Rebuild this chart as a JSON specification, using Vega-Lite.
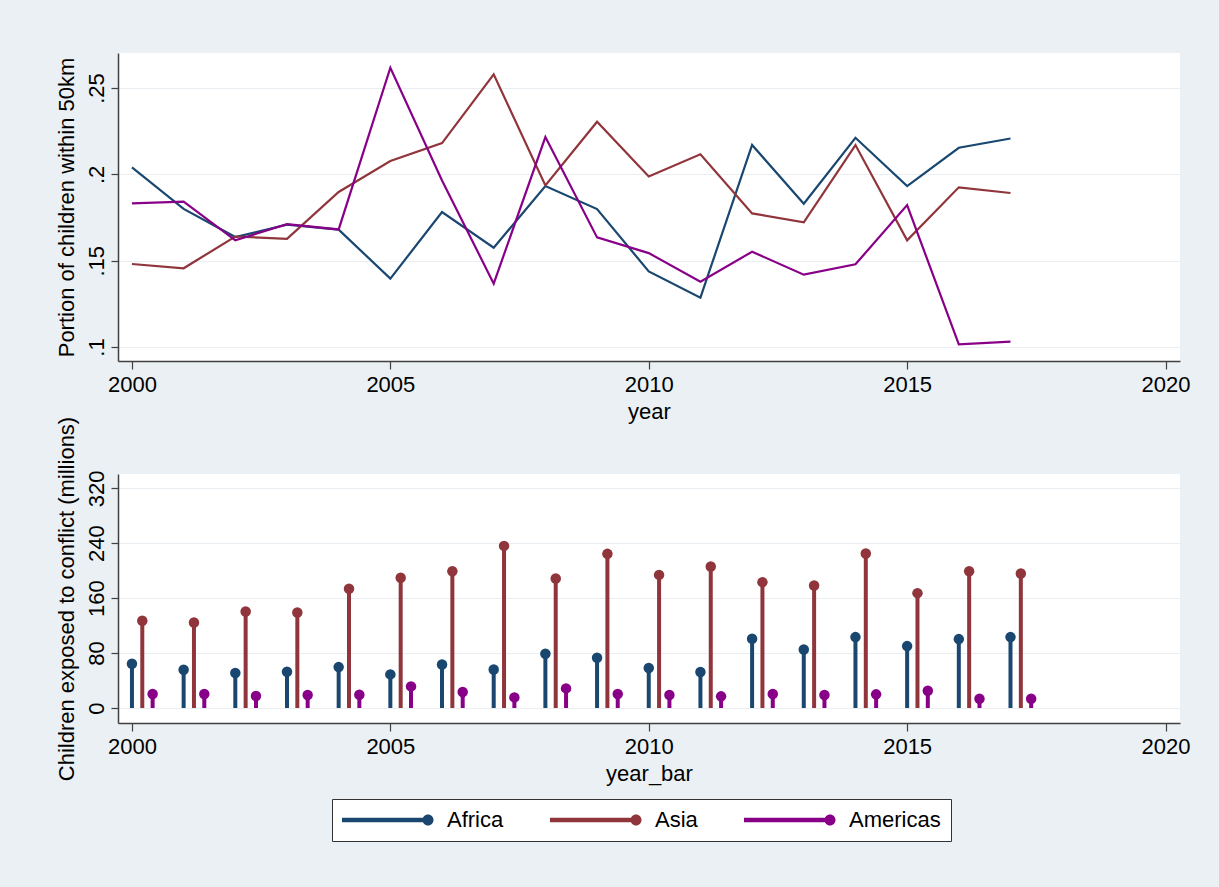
{
  "$schema": "https://vega.github.io/schema/vega-lite/v6.json",
  "background": "#EAF0F3",
  "padding": {"left": 54, "top": 53, "right": 29, "bottom": 45},
  "bounds": "flush",
  "spacing": 113,
  "resolve": {"scale": {"color": "shared"}},
  "config": {
    "font": "Liberation Sans",
    "view": {"stroke": null, "fill": "white"},
    "axis": {
      "labelFont": "Liberation Sans", "labelFontSize": 22, "labelColor": "#000",
      "titleFont": "Liberation Sans", "titleFontSize": 22, "titleFontWeight": "normal", "titleColor": "#000",
      "domainColor": "#404040", "domainWidth": 1.5, "tickColor": "#404040", "tickWidth": 1.2,
      "gridColor": "#E8EEF1", "gridWidth": 1.2
    },
    "axisX": {"tickSize": 8, "labelPadding": 5, "titleBaseline": "alphabetic", "titleY": 57, "grid": false, "labelFlush": false, "labelOverlap": false},
    "axisY": {"tickSize": 7, "labelPadding": 8, "labelAngle": 270, "labelAlign": "center", "labelBaseline": "alphabetic", "titleX": -45, "titleBaseline": "alphabetic", "titleAngle": 270, "grid": true},
    "legend": {
      "orient": "none", "legendX": 214, "legendY": 746, "direction": "horizontal",
      "labelFont": "Liberation Sans", "labelFontSize": 22, "labelColor": "#000",
      "symbolType": "M-1,-0.2L6.6,-0.2L6.6,0.2L-1,0.2Z M6.32,0A0.5,0.5 0 1,1 7.32,0A0.5,0.5 0 1,1 6.32,0Z",
      "symbolSize": 484, "symbolStrokeWidth": 0, "symbolOpacity": 1,
      "labelOffset": 83, "columnPadding": 46, "padding": 10,
      "strokeColor": "#333", "fillColor": "white"
    }
  },
  "datasets": {
    "d": [
      {"region": "Africa", "year": 2000, "year_bar": 2000, "portion": 0.2041, "children": 64.5},
      {"region": "Africa", "year": 2001, "year_bar": 2001, "portion": 0.1800, "children": 55.8},
      {"region": "Africa", "year": 2002, "year_bar": 2002, "portion": 0.1637, "children": 50.9},
      {"region": "Africa", "year": 2003, "year_bar": 2003, "portion": 0.1709, "children": 52.8},
      {"region": "Africa", "year": 2004, "year_bar": 2004, "portion": 0.1680, "children": 59.6},
      {"region": "Africa", "year": 2005, "year_bar": 2005, "portion": 0.1396, "children": 49.0},
      {"region": "Africa", "year": 2006, "year_bar": 2006, "portion": 0.1782, "children": 63.5},
      {"region": "Africa", "year": 2007, "year_bar": 2007, "portion": 0.1575, "children": 56.2},
      {"region": "Africa", "year": 2008, "year_bar": 2008, "portion": 0.1932, "children": 79.0},
      {"region": "Africa", "year": 2009, "year_bar": 2009, "portion": 0.1799, "children": 73.2},
      {"region": "Africa", "year": 2010, "year_bar": 2010, "portion": 0.1438, "children": 58.2},
      {"region": "Africa", "year": 2011, "year_bar": 2011, "portion": 0.1286, "children": 52.4},
      {"region": "Africa", "year": 2012, "year_bar": 2012, "portion": 0.2170, "children": 100.8},
      {"region": "Africa", "year": 2013, "year_bar": 2013, "portion": 0.1830, "children": 85.3},
      {"region": "Africa", "year": 2014, "year_bar": 2014, "portion": 0.2212, "children": 103.3},
      {"region": "Africa", "year": 2015, "year_bar": 2015, "portion": 0.1932, "children": 90.2},
      {"region": "Africa", "year": 2016, "year_bar": 2016, "portion": 0.2154, "children": 100.4},
      {"region": "Africa", "year": 2017, "year_bar": 2017, "portion": 0.2208, "children": 103.3},
      {"region": "Asia", "year": 2000, "year_bar": 2000.2, "portion": 0.1481, "children": 127.0},
      {"region": "Asia", "year": 2001, "year_bar": 2001.2, "portion": 0.1456, "children": 124.6},
      {"region": "Asia", "year": 2002, "year_bar": 2002.2, "portion": 0.1640, "children": 140.6},
      {"region": "Asia", "year": 2003, "year_bar": 2003.2, "portion": 0.1627, "children": 139.1},
      {"region": "Asia", "year": 2004, "year_bar": 2004.2, "portion": 0.1898, "children": 173.6},
      {"region": "Asia", "year": 2005, "year_bar": 2005.2, "portion": 0.2077, "children": 189.6},
      {"region": "Asia", "year": 2006, "year_bar": 2006.2, "portion": 0.2181, "children": 199.3},
      {"region": "Asia", "year": 2007, "year_bar": 2007.2, "portion": 0.2579, "children": 236.1},
      {"region": "Asia", "year": 2008, "year_bar": 2008.2, "portion": 0.1936, "children": 188.6},
      {"region": "Asia", "year": 2009, "year_bar": 2009.2, "portion": 0.2305, "children": 224.5},
      {"region": "Asia", "year": 2010, "year_bar": 2010.2, "portion": 0.1988, "children": 193.9},
      {"region": "Asia", "year": 2011, "year_bar": 2011.2, "portion": 0.2116, "children": 206.0},
      {"region": "Asia", "year": 2012, "year_bar": 2012.2, "portion": 0.1774, "children": 183.3},
      {"region": "Asia", "year": 2013, "year_bar": 2013.2, "portion": 0.1722, "children": 178.4},
      {"region": "Asia", "year": 2014, "year_bar": 2014.2, "portion": 0.2170, "children": 225.0},
      {"region": "Asia", "year": 2015, "year_bar": 2015.2, "portion": 0.1618, "children": 167.3},
      {"region": "Asia", "year": 2016, "year_bar": 2016.2, "portion": 0.1925, "children": 199.3},
      {"region": "Asia", "year": 2017, "year_bar": 2017.2, "portion": 0.1892, "children": 195.9},
      {"region": "Americas", "year": 2000, "year_bar": 2000.4, "portion": 0.1832, "children": 20.4},
      {"region": "Americas", "year": 2001, "year_bar": 2001.4, "portion": 0.1842, "children": 20.4},
      {"region": "Americas", "year": 2002, "year_bar": 2002.4, "portion": 0.1618, "children": 17.5},
      {"region": "Americas", "year": 2003, "year_bar": 2003.4, "portion": 0.1712, "children": 18.9},
      {"region": "Americas", "year": 2004, "year_bar": 2004.4, "portion": 0.1681, "children": 19.4},
      {"region": "Americas", "year": 2005, "year_bar": 2005.4, "portion": 0.2618, "children": 31.5},
      {"region": "Americas", "year": 2006, "year_bar": 2006.4, "portion": 0.1965, "children": 23.3},
      {"region": "Americas", "year": 2007, "year_bar": 2007.4, "portion": 0.1367, "children": 15.5},
      {"region": "Americas", "year": 2008, "year_bar": 2008.4, "portion": 0.2216, "children": 28.6},
      {"region": "Americas", "year": 2009, "year_bar": 2009.4, "portion": 0.1635, "children": 20.4},
      {"region": "Americas", "year": 2010, "year_bar": 2010.4, "portion": 0.1544, "children": 18.9},
      {"region": "Americas", "year": 2011, "year_bar": 2011.4, "portion": 0.1378, "children": 17.0},
      {"region": "Americas", "year": 2012, "year_bar": 2012.4, "portion": 0.1552, "children": 20.4},
      {"region": "Americas", "year": 2013, "year_bar": 2013.4, "portion": 0.1419, "children": 18.9},
      {"region": "Americas", "year": 2014, "year_bar": 2014.4, "portion": 0.1479, "children": 19.9},
      {"region": "Americas", "year": 2015, "year_bar": 2015.4, "portion": 0.1822, "children": 25.2},
      {"region": "Americas", "year": 2016, "year_bar": 2016.4, "portion": 0.1015, "children": 13.6},
      {"region": "Americas", "year": 2017, "year_bar": 2017.4, "portion": 0.1031, "children": 13.6}
    ]
  },
  "vconcat": [
    {
      "width": 1062,
      "height": 308,
      "data": {"name": "d"},
      "mark": {"type": "line", "strokeWidth": 2.2},
      "encoding": {
        "x": {"field": "year", "type": "quantitative", "title": "year",
              "scale": {"domain": [1999.73, 2020.28], "nice": false, "zero": false},
              "axis": {"values": [2000, 2005, 2010, 2015, 2020], "format": "d"}},
        "y": {"field": "portion", "type": "quantitative", "title": "Portion of children within 50km",
              "scale": {"domain": [0.0919, 0.2703], "nice": false, "zero": false},
              "axis": {"values": [0.1, 0.15, 0.2, 0.25], "labelExpr": "substring(format(datum.value, '.2~f'), 1)"}},
        "color": {"field": "region", "type": "nominal",
                  "scale": {"domain": ["Africa", "Asia", "Americas"], "range": ["#1A476F", "#90353B", "#880088"]}},
        "order": {"field": "year", "type": "quantitative"}
      }
    },
    {
      "width": 1062,
      "height": 249,
      "data": {"name": "d"},
      "encoding": {
        "x": {"field": "year_bar", "type": "quantitative", "title": "year_bar",
              "scale": {"domain": [1999.73, 2020.28], "nice": false, "zero": false},
              "axis": {"values": [2000, 2005, 2010, 2015, 2020], "format": "d"}},
        "y": {"field": "children", "type": "quantitative", "title": "Children exposed to conflict (millions)",
              "scale": {"domain": [-21.8, 340.8], "nice": false, "zero": false},
              "axis": {"values": [0, 80, 160, 240, 320]}},
        "color": {"field": "region", "type": "nominal",
                  "scale": {"domain": ["Africa", "Asia", "Americas"], "range": ["#1A476F", "#90353B", "#880088"]}}
      },
      "layer": [
        {
          "mark": {"type": "rule", "strokeWidth": 4},
          "encoding": {"y2": {"datum": 0}}
        },
        {
          "mark": {"type": "point", "filled": true, "size": 110, "opacity": 1, "shape": "circle"},
          "encoding": {"color": {"field": "region", "type": "nominal",
                                  "legend": {"title": null,
                                    "encode": {"symbols": {"update": {"fill": {"scale": "color", "field": "value"}, "stroke": {"value": "transparent"}, "strokeWidth": {"value": 0}, "opacity": {"value": 1}}}}}}}
        }
      ]
    }
  ]
}
